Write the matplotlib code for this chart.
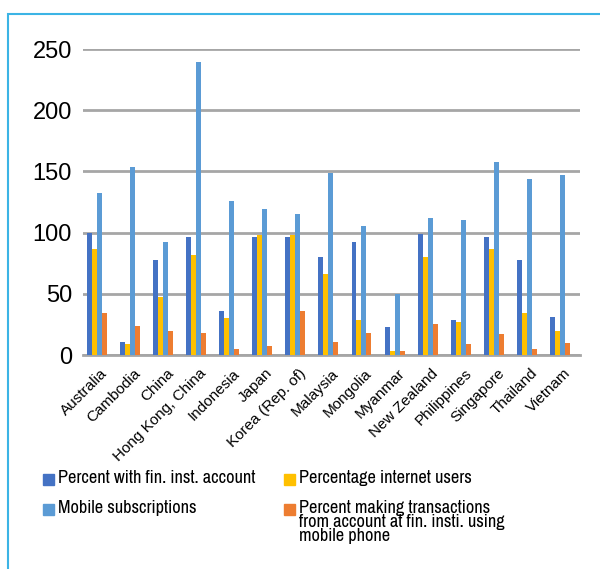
import matplotlib
matplotlib.use("Agg")
import matplotlib.pyplot as plt
from matplotlib.patches import Rectangle
import matplotlib.transforms as mtransforms
import numpy as np

# data
countries = ["Australia", "Cambodia", "China", "Hong Kong, China", "Indonesia",
             "Japan", "Korea (Rep. of)", "Malaysia", "Mongolia", "Myanmar",
             "New Zealand", "Philippines", "Singapore", "Thailand", "Vietnam"]
fin_account = [100, 11, 78, 96, 36, 96, 96, 80, 92, 23, 99, 29, 96, 78, 31]
internet_users = [87, 9, 47, 82, 30, 98, 98, 66, 29, 3, 80, 27, 87, 34, 20]
mobile_subs = [132, 154, 92, 239, 126, 119, 115, 149, 105, 50, 112, 110, 158, 144, 147]
mobile_trans = [34, 24, 20, 18, 5, 7, 36, 11, 18, 3, 25, 9, 17, 5, 10]

series_names = ["Percent with fin. inst. account",
                "Percentage internet users",
                "Mobile subscriptions",
                "Percent making transactions\nfrom account at fin. insti. using\nmobile phone"]
colors = ["#4472C4", "#FFC000", "#5B9BD5", "#ED7D31"]
yticks = [0, 50, 100, 150, 200, 250]

plt.rcParams['font.family'] = ['Liberation Sans', 'DejaVu Sans']
# narrow face for the legend, like the original
narrow = ['Archivo Narrow', 'Liberation Sans', 'DejaVu Sans']

W, H = 600, 569
fig = plt.figure(figsize=(W / 100, H / 100), dpi=100)
ax = fig.add_axes([83 / W, 1 - 355 / H, 497 / W, 306 / H])

x = np.arange(len(countries))
w = 0.15
all_series = [fin_account, internet_users, mobile_subs, mobile_trans]
for i, (vals, c) in enumerate(zip(all_series, colors)):
    ax.bar(x + (i - 1.5) * w, vals, width=w, color=c, zorder=3)

ax.set_ylim(0, 250)
ax.set_xlim(-0.41, len(countries) - 0.4)
ax.set_yticks(yticks)
ax.yaxis.grid(True, color="#a6a6a6", linewidth=2, zorder=0)
ax.set_axisbelow(True)
for s in ["top", "right", "left"]:
    ax.spines[s].set_visible(False)
ax.spines["bottom"].set_color("#a6a6a6")
ax.spines["bottom"].set_linewidth(2)
ax.tick_params(axis="y", length=0, labelsize=17, pad=8)
ax.tick_params(axis="x", length=0, labelsize=11, pad=8)
ax.set_xticks(x)
ax.set_xticklabels(countries, rotation=45, ha="right", rotation_mode="anchor")
shift = mtransforms.ScaledTranslation(3.5 / 100, 0, fig.dpi_scale_trans)
for lab in ax.get_xticklabels():
    lab.set_transform(lab.get_transform() + shift)

# legend, laid out by hand: two columns, square keys level with the first text line
leg_items = [(0, 43, 474), (2, 43, 504), (1, 284, 474), (3, 284, 504)]
for idx, px, py in leg_items:
    fig.add_artist(Rectangle((px / W, 1 - (py + 11) / H), 11 / W, 11 / H,
                             transform=fig.transFigure, color=colors[idx]))
    fig.text((px + 15) / W, 1 - (py - 4) / H, series_names[idx], fontsize=13.2,
             va="top", ha="left", linespacing=0.84, family=narrow)

# light blue frame round the chart
fig.add_artist(Rectangle((8 / W, -0.1), 1.2, 1 - 14 / H + 0.1,
                         transform=fig.transFigure, fill=False,
                         edgecolor="#3cb4e5", linewidth=1.5))

fig.savefig("out.png", dpi=100)
